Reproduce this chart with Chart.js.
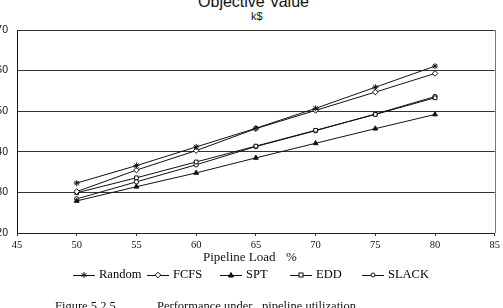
<!DOCTYPE html>
<html>
<head>
<meta charset="utf-8">
<script src="https://cdn.jsdelivr.net/npm/chart.js@4"></script>
<style>
  body { margin: 0; width: 503px; height: 308px; overflow: hidden; background: #fff; position: relative; }
  #wrap { position: absolute; left: -3px; top: 0; width: 506px; height: 250px; }
  .t { position: absolute; white-space: nowrap; color: #111; }
  .sans { font-family: "Liberation Sans", Arial, sans-serif; }
  .serif { font-family: "Liberation Serif", "Times New Roman", serif; }
  .leg { position: absolute; top: 268px; height: 14px; }
  .leg svg { position: absolute; top: 0; }
  .leg span { position: absolute; top: -1px; font-size: 12.5px; }
</style>
</head>
<body>
<div class="t sans" style="left:0;width:503px;text-align:center;top:-7px;font-size:16px;padding-left:2px">Objective Value</div>
<div class="t sans" style="left:251px;top:10px;font-size:11px">k$</div>
<div id="wrap"><canvas id="objChart"></canvas></div>
<div class="t serif" style="left:203px;top:249px;font-size:13px">Pipeline Load</div>
<div class="t serif" style="left:286px;top:249px;font-size:13px">%</div>
<div id="legend"></div>
<div class="t serif" style="left:55px;top:299px;font-size:12.5px">Figure 5.2.5</div>
<div class="t serif" style="left:157px;top:299px;font-size:12.5px">Performance under</div>
<div class="t serif" style="left:262px;top:299px;font-size:12.5px">pipeline utilization</div>
<script>
// 数据
const loads = [50, 55, 60, 65, 70, 75, 80];
const seriesNames = ['Random', 'FCFS', 'SPT', 'EDD', 'SLACK'];
const randomVals = [32.3, 36.6, 41.2, 45.8, 50.7, 55.9, 61.1];
const fcfsVals = [30.2, 35.5, 40.3, 45.7, 50.2, 54.7, 59.3];
const sptVals = [27.9, 31.4, 34.8, 38.5, 42.1, 45.7, 49.2];
const eddVals = [29.9, 33.6, 37.5, 41.4, 45.3, 49.2, 53.3];
const slackVals = [28.4, 32.6, 36.8, 41.3, 45.2, 49.3, 53.6];
const xTicks = [45, 50, 55, 60, 65, 70, 75, 80, 85];
const yTicks = [20, 30, 40, 50, 60, 70];

const markers = [
  { style: 'star', fill: '#111', r: 3 },
  { style: 'rectRot', fill: '#fff', r: 2.8 },
  { style: 'triangle', fill: '#111', r: 2.8 },
  { style: 'rect', fill: '#fff', r: 2.6 },
  { style: 'circle', fill: '#fff', r: 2.2 }
];
const allVals = [randomVals, fcfsVals, sptVals, eddVals, slackVals];

function makeDataset(i) {
  return {
    label: seriesNames[i],
    data: loads.map((x, k) => ({ x: x, y: allVals[i][k] })),
    borderColor: '#111',
    borderWidth: 1,
    pointStyle: markers[i].style,
    pointRadius: markers[i].r,
    pointBackgroundColor: markers[i].fill,
    pointBorderColor: '#111',
    pointBorderWidth: 1,
    fill: false,
    tension: 0
  };
}

const rightBorder = {
  id: 'rightBorder',
  afterDraw(chart) {
    const { ctx, chartArea } = chart;
    ctx.save();
    ctx.strokeStyle = '#777';
    ctx.lineWidth = 1;
    ctx.beginPath();
    ctx.moveTo(Math.round(chartArea.right) + 0.5, chartArea.top);
    ctx.lineTo(Math.round(chartArea.right) + 0.5, chartArea.bottom);
    ctx.stroke();
    ctx.restore();
  }
};

function drawChart() {
  const ctx = document.getElementById('objChart').getContext('2d');
  new Chart(ctx, {
    type: 'line',
    data: { datasets: seriesNames.map((n, i) => makeDataset(i)) },
    options: {
      responsive: true,
      maintainAspectRatio: false,
      animation: false,
      layout: { padding: { top: 30, right: 7, left: 0, bottom: 0 } },
      plugins: { legend: { display: false }, tooltip: { enabled: false } },
      scales: {
        x: {
          type: 'linear',
          min: 45, max: 85,
          afterBuildTicks: s => { s.ticks = xTicks.map(v => ({ value: v })); },
          afterFit: s => { s.height = 17; },
          grid: { drawOnChartArea: false, tickLength: 3, color: '#333' },
          border: { color: '#222', width: 1 },
          ticks: { color: '#111', padding: 3, font: { family: 'Liberation Serif', size: 10.5 } }
        },
        y: {
          min: 20, max: 70,
          afterBuildTicks: s => { s.ticks = yTicks.map(v => ({ value: v })); },
          afterFit: s => { s.width = 20; },
          grid: { drawTicks: false, color: '#333', lineWidth: 1 },
          border: { color: '#111', width: 1 },
          ticks: { color: '#111', padding: 9, font: { family: 'Liberation Sans', size: 10.5 } }
        }
      }
    },
    plugins: [rightBorder]
  });
}

drawChart();

// 图例
const legendX = [73, 147, 220, 290, 362];
function markerSvg(i) {
  const m = markers[i];
  const c = 'stroke="#111" stroke-width="1" fill="' + m.fill + '"';
  if (m.style === 'star') return '<path d="M11,4 L11,10 M8.4,5.5 L13.6,8.5 M8.4,8.5 L13.6,5.5" stroke="#111" stroke-width="1"/>';
  if (m.style === 'rectRot') return '<path d="M11,4.2 L13.8,7 L11,9.8 L8.2,7 Z" ' + c + '/>';
  if (m.style === 'triangle') return '<path d="M11,4.5 L13.5,9 L8.5,9 Z" ' + c + '/>';
  if (m.style === 'rect') return '<rect x="9" y="5" width="4" height="4" ' + c + '/>';
  return '<circle cx="11" cy="7" r="2" ' + c + '/>';
}
const legendHtml = seriesNames.map((n, i) => `
  <div class="leg" style="left:${legendX[i]}px">
    <svg width="23" height="14"><line x1="0" y1="7.5" x2="22" y2="7.5" stroke="#111" stroke-width="1"/>${markerSvg(i)}</svg>
    <span class="serif" style="left:26px">${n}</span>
  </div>`).join('');
document.getElementById('legend').innerHTML = legendHtml;
</script>
</body>
</html>
